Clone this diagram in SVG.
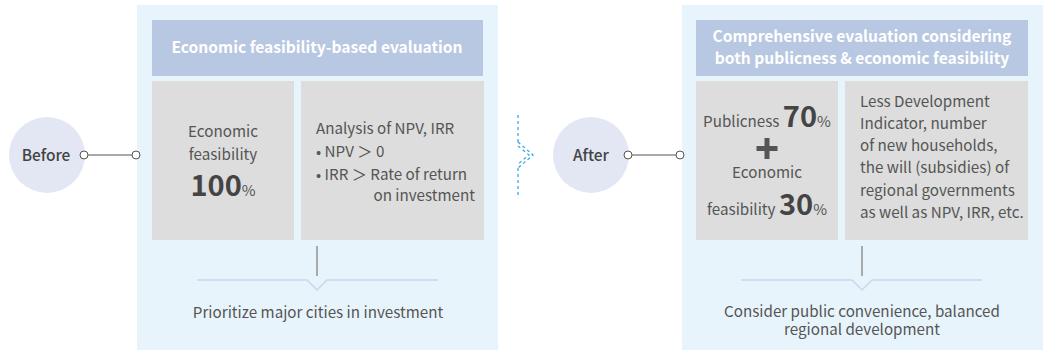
<svg xmlns="http://www.w3.org/2000/svg" width="1050" height="350" viewBox="0 0 1050 350">
<style>
text{font-family:"Noto Sans CJK KR","Noto Sans",sans-serif;fill:#555;font-size:15.2px}
.hd{fill:#fff;font-weight:bold;font-size:15.6px}
.big{font-weight:bold;fill:#444;font-size:29px}
.c{text-anchor:middle}
.panel{fill:#e8f4fc}
.head{fill:#b8c8e2}
.gray{fill:#dcdddc}
.circ{fill:#e2e7f3}
.ln{stroke:#555;stroke-width:1;fill:none}
.dot{fill:#fff;stroke:#555;stroke-width:1}
.sep{stroke:#7a7a7a;stroke-width:1.2}
.brk{stroke:#c9d6ec;stroke-width:1.5;fill:none}
.dash{stroke:#2aa6e4;stroke-width:1.2;fill:none;stroke-dasharray:3 3}
.lbl{font-size:15.5px;font-weight:500;fill:#444}
</style>
<g id="before-panel">
<rect class="panel" x="137" y="5" width="361" height="345"/>
<rect class="head" x="152" y="20" width="331" height="56"/>
<text class="hd c" x="317" y="53">Economic feasibility-based evaluation</text>
<rect class="gray" x="152" y="81" width="142" height="159"/>
<text class="c" x="223" y="137">Economic</text>
<text class="c" x="223" y="160">feasibility</text>
<text class="c" x="223" y="196"><tspan class="big">100</tspan><tspan font-size="15">%</tspan></text>
<rect class="gray" x="301" y="81" width="183" height="159"/>
<text x="316" y="134">Analysis of NPV, IRR</text>
<text x="316" y="157">• NPV ＞ 0</text>
<text x="316" y="180">• IRR ＞ Rate of return</text>
<text x="475" y="201" text-anchor="end">on investment</text>
<line class="sep" x1="317" y1="246" x2="317" y2="276"/>
<path class="brk" d="M197 280H307L317 290L327 280H438"/>
<text class="c" x="318" y="318">Prioritize major cities in investment</text>
</g>
<g id="after-panel">
<rect class="panel" x="682" y="5" width="361" height="345"/>
<rect class="head" x="696" y="20" width="332" height="56"/>
<text class="hd c" x="862" y="42">Comprehensive evaluation considering</text>
<text class="hd c" x="862" y="64">both publicness &amp; economic feasibility</text>
<rect class="gray" x="696" y="81" width="142" height="159"/>
<text class="c" x="767" y="127">Publicness <tspan class="big">70</tspan><tspan font-size="15">%</tspan></text>
<path d="M767 138V159M756.5 148.5H777.5" stroke="#555" stroke-width="5"/>
<text class="c" x="767" y="178">Economic</text>
<text class="c" x="767" y="215">feasibility <tspan class="big">30</tspan><tspan font-size="15">%</tspan></text>
<rect class="gray" x="845" y="81" width="183" height="159"/>
<text x="860" y="107">Less Development</text>
<text x="860" y="129">Indicator, number</text>
<text x="860" y="151">of new households,</text>
<text x="860" y="173">the will (subsidies) of</text>
<text x="860" y="196">regional governments</text>
<text x="860" y="218">as well as NPV, IRR, etc.</text>
<line class="sep" x1="862" y1="246" x2="862" y2="276"/>
<path class="brk" d="M741 280H852L862 290L872 280H982"/>
<text class="c" x="862" y="317">Consider public convenience, balanced</text>
<text class="c" x="862" y="335">regional development</text>
</g>
<g id="before">
<circle class="circ" cx="47" cy="155" r="38"/>
<text class="c lbl" x="46" y="161">Before</text>
</g>
<g id="after">
<circle class="circ" cx="591" cy="155" r="38"/>
<text class="c lbl" x="591" y="161">After</text>
</g>
<g id="connectors">
<line class="ln" x1="84" y1="155" x2="136" y2="155"/>
<circle class="dot" cx="84" cy="155" r="4"/>
<circle class="dot" cx="136" cy="155" r="4"/>
<line class="ln" x1="628" y1="155" x2="680" y2="155"/>
<circle class="dot" cx="628" cy="155" r="4"/>
<circle class="dot" cx="680" cy="155" r="4"/>
<line class="dash" x1="518" y1="115" x2="518" y2="142"/>
<line class="dash" x1="518" y1="168" x2="518" y2="195"/>
<path class="dash" d="M518 142L533 155L518 168"/>
<path class="dash" d="M518 146L529 155L518 164"/>
</g>
</svg>
